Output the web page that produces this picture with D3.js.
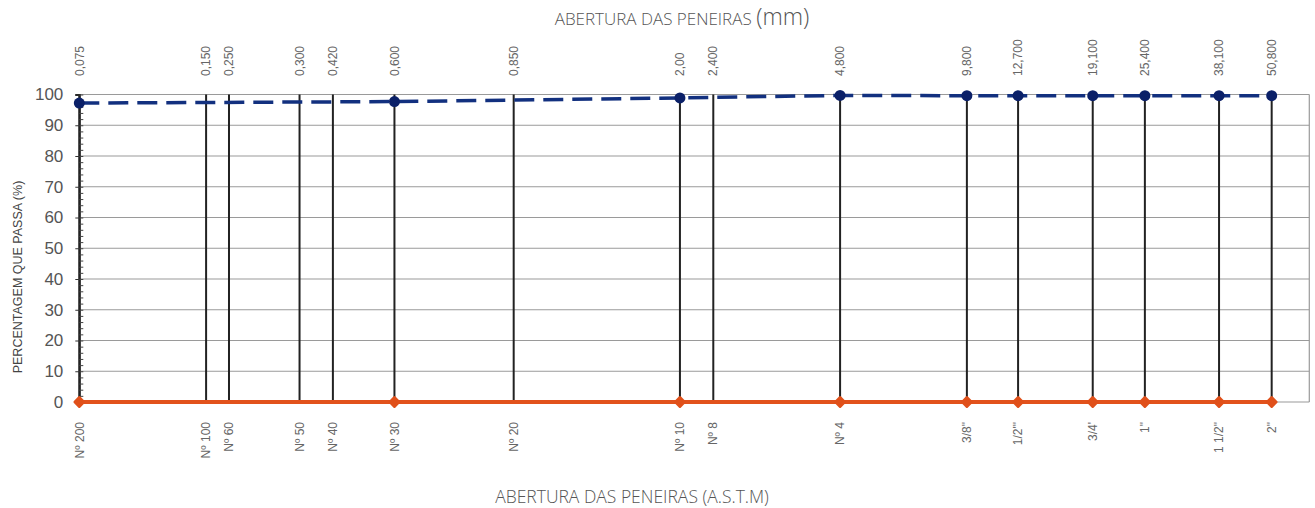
<!DOCTYPE html>
<html>
<head>
  <meta charset="utf-8">
  <title>Granulometria</title>
  <style>
    body { margin: 0; background: #fff; }
    svg text { font-family: "Liberation Sans", Arial, sans-serif; }
  </style>
</head>
<body>
<svg width="1315" height="508"></svg>
<script src="https://d3js.org/d3.v7.min.js"></script>
<script>
// abertura das peneiras (mm) como aparece no eixo logarítmico
var aberturas = [0.075, 0.150, 0.170, 0.250, 0.300, 0.420, 0.806, 2.00, 2.40, 4.80, 9.6, 12.7, 19.1, 25.4, 38.1, 50.8];
// rótulos de cima (mm)
var rotulosMm = ["0,075", "0,150", "0,250", "0,300", "0,420", "0,600", "0,850", "2,00", "2,400", "4,800",
  "9,800", "12,700", "19,100", "25,400", "38,100", "50,800"];
// rótulos de baixo (A.S.T.M)
var rotulosAstm = ["Nº 200", "Nº 100", "Nº 60", "Nº 50", "Nº 40", "Nº 30", "Nº 20", "Nº 10", "Nº 8", "Nº 4",
  "3/8\"", "1/2'\"", "3/4'", "1\"", "1 1/2\"", "2\""];
var yTicks = [0, 10, 20, 30, 40, 50, 60, 70, 80, 90, 100];

// peneiras ensaiadas (indices em aberturas)
var peneirasEnsaio = [0, 5, 7, 9, 10, 11, 12, 13, 14, 15];
// % que passa
var passaAmostra = [97.2, 97.7, 98.9, 99.7, 99.6, 99.6, 99.6, 99.6, 99.6, 99.6];
var passaOutra = [0, 0, 0, 0, 0, 0, 0, 0, 0, 0];

var svg = d3.select("svg");
var x = d3.scaleLog().domain([0.075, 62.4]).range([79.3, 1309.3]);
var y = d3.scaleLinear().domain([0, 100]).range([402, 94.5]);

// grade horizontal
svg.append("g").selectAll("line")
  .data(yTicks)
  .enter().append("line")
  .attr("x1", x.range()[0]).attr("x2", x.range()[1])
  .attr("y1", function(d) { return y(d); })
  .attr("y2", function(d) { return y(d); })
  .attr("stroke", "#9a9a9a").attr("stroke-width", 1.2);

// borda direita
svg.append("line")
  .attr("x1", x.range()[1]).attr("x2", x.range()[1])
  .attr("y1", y(0)).attr("y2", y(100))
  .attr("stroke", "#9a9a9a").attr("stroke-width", 1.2);

// linhas das peneiras
svg.append("g").selectAll("line")
  .data(aberturas)
  .enter().append("line")
  .attr("x1", function(d) { return x(d); })
  .attr("x2", function(d) { return x(d); })
  .attr("y1", y(0)).attr("y2", y(100))
  .attr("stroke", "#222").attr("stroke-width", 2);

// eixo y
var yAxis = svg.append("g")
  .attr("transform", "translate(" + x.range()[0] + ",0)")
  .call(d3.axisLeft(y).tickValues(yTicks).tickSize(4).tickPadding(12));
yAxis.select(".domain").attr("stroke", "#222").attr("stroke-width", 2);
yAxis.selectAll(".tick line").attr("stroke", "#333");
yAxis.selectAll("text").attr("font-size", 17).attr("fill", "#555")
  .style("font-family", "'Liberation Sans', Arial, sans-serif");

var yMinor = svg.append("g")
  .attr("transform", "translate(" + x.range()[0] + ",0)")
  .call(d3.axisRight(y).tickValues(d3.range(0, 101, 2)).tickSize(4).tickFormat(""));
yMinor.select(".domain").remove();
yMinor.selectAll(".tick line").attr("stroke", "#444");

// rótulos mm
svg.append("g").selectAll("text")
  .data(aberturas)
  .enter().append("text")
  .attr("transform", function(d) { return "translate(" + x(d) + ",76) rotate(-90)"; })
  .attr("dy", "0.35em")
  .attr("text-anchor", "start")
  .attr("font-size", 12)
  .attr("fill", "#666")
  .text(function(d, i) { return rotulosMm[i]; });

// rótulos A.S.T.M
svg.append("g").selectAll("text")
  .data(aberturas)
  .enter().append("text")
  .attr("transform", function(d) { return "translate(" + x(d) + ",422) rotate(-90)"; })
  .attr("dy", "0.35em")
  .attr("text-anchor", "end")
  .attr("font-size", 12)
  .attr("fill", "#666")
  .text(function(d, i) { return rotulosAstm[i]; });

// séries
var linha = d3.line()
  .x(function(d) { return x(aberturas[d[0]]); })
  .y(function(d) { return y(d[1]); });

var serieLaranja = peneirasEnsaio.map(function(p, i) { return [p, passaOutra[i]]; });
var serieAzul = peneirasEnsaio.map(function(p, i) { return [p, passaAmostra[i]]; });

svg.append("path")
  .datum(serieLaranja)
  .attr("d", linha)
  .attr("fill", "none")
  .attr("stroke", "#e2521c")
  .attr("stroke-width", 4);

svg.append("g").selectAll("path")
  .data(serieLaranja)
  .enter().append("path")
  .attr("transform", function(d) { return "translate(" + x(aberturas[d[0]]) + "," + y(d[1]) + ") rotate(45)"; })
  .attr("d", d3.symbol().type(d3.symbolSquare).size(38))
  .attr("fill", "#e0501a")
  .attr("stroke", "#e0501a")
  .attr("stroke-width", 3)
  .attr("stroke-linejoin", "round");

svg.append("path")
  .datum(serieAzul)
  .attr("d", linha)
  .attr("fill", "none")
  .attr("stroke", "#12307f")
  .attr("stroke-width", 3.5)
  .attr("stroke-dasharray", "20,9");

svg.append("g").selectAll("circle")
  .data(serieAzul)
  .enter().append("circle")
  .attr("cx", function(d) { return x(aberturas[d[0]]); })
  .attr("cy", function(d) { return y(d[1]); })
  .attr("r", 5.5)
  .attr("fill", "#0b2068");

// títulos
var tTop = svg.append("text")
  .attr("x", 682).attr("y", 25)
  .attr("text-anchor", "middle")
  .attr("fill", "#555")
  .style("font-family", "'Open Sans', sans-serif")
  .style("font-weight", 300);
tTop.append("tspan").attr("font-size", 17).text("ABERTURA DAS PENEIRAS ");
tTop.append("tspan").attr("font-size", 23).text("(mm)");

svg.append("text")
  .attr("x", 632).attr("y", 503)
  .attr("text-anchor", "middle")
  .attr("fill", "#555")
  .attr("font-size", 17.5)
  .style("font-family", "'Open Sans', sans-serif")
  .style("font-weight", 300)
  .text("ABERTURA DAS PENEIRAS (A.S.T.M)");

svg.append("text")
  .attr("transform", "translate(22,277) rotate(-90)")
  .attr("text-anchor", "middle")
  .attr("font-size", 12.5)
  .attr("fill", "#444")
  .text("PERCENTAGEM QUE PASSA (%)");
</script>
</body>
</html>
